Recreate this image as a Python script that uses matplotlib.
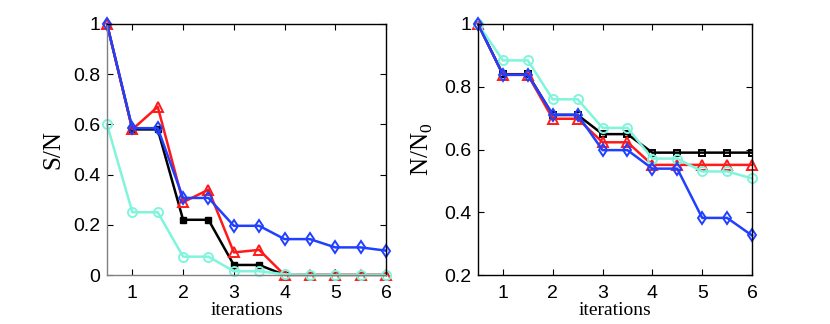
import matplotlib
matplotlib.use("Agg")
import matplotlib.pyplot as plt

x = [0.5, 1, 1.5, 2, 2.5, 3, 3.5, 4, 4.5, 5, 5.5, 6]

sn_black = [1, 0.58, 0.58, 0.22, 0.22, 0.04, 0.04, 0, 0, 0, 0, 0]
sn_red = [1, 0.58, 0.67, 0.29, 0.34, 0.09, 0.10, 0, 0, 0, 0, 0]
sn_blue = [1, 0.585, 0.585, 0.307, 0.307, 0.196, 0.196, 0.143, 0.143, 0.11, 0.11, 0.097]
sn_cyan = [0.6, 0.25, 0.25, 0.073, 0.073, 0.015, 0.015, 0.003, 0, 0, 0, 0]

nn_black = [1, 0.84, 0.84, 0.71, 0.71, 0.649, 0.649, 0.59, 0.59, 0.59, 0.59, 0.59]
nn_red = [1, 0.838, 0.838, 0.698, 0.698, 0.623, 0.623, 0.551, 0.551, 0.551, 0.551, 0.551]
nn_blue = [1, 0.838, 0.838, 0.711, 0.711, 0.598, 0.598, 0.539, 0.539, 0.382, 0.382, 0.326]
nn_cyan = [1, 0.884, 0.884, 0.76, 0.76, 0.669, 0.669, 0.571, 0.571, 0.53, 0.53, 0.508]

xticks = [1, 2, 3, 4, 5, 6]
left_yticks = [0, 0.2, 0.4, 0.6, 0.8, 1]
right_yticks = [0.2, 0.4, 0.6, 0.8, 1]

RED = "#ff1a1a"
BLUE = "#2040ff"
CYAN = "#80f5dc"
BLACK = "#000000"

plt.rcParams["font.family"] = ["Liberation Sans", "DejaVu Sans"]
serif = ["Liberation Serif", "DejaVu Serif"]

fig = plt.figure(figsize=(8.3, 3.24), dpi=100)
ax1 = fig.add_axes([107 / 830, 1 - 275 / 324, (386 - 107) / 830, (275 - 24) / 324])
ax2 = fig.add_axes([478 / 830, 1 - 275 / 324, (752 - 478) / 830, (275 - 24) / 324])

lw = 1.8
ms = 6.5
mew = 1.4

ax1.plot(x, sn_black, color=BLACK, lw=lw, marker="s", ms=4.5, mfc=BLACK, mew=1)
ax1.plot(x, sn_red, color=RED, lw=lw, marker="^", ms=ms + 1, mfc="none", mew=mew, clip_on=False)
ax1.plot(x, sn_blue, color=BLUE, lw=lw, marker="d", ms=ms, mfc="none", mew=mew, clip_on=False)
ax1.plot(x, sn_cyan, color=CYAN, lw=lw, marker="o", ms=ms, mfc="none", mew=mew, clip_on=False)

ax2.plot(x, nn_black, color=BLACK, lw=lw, marker="s", ms=5, mfc="none", mew=mew)
ax2.plot(x, nn_red, color=RED, lw=lw, marker="^", ms=ms + 1, mfc="none", mew=mew, clip_on=False)
ax2.plot(x, nn_cyan, color=CYAN, lw=lw, marker="o", ms=ms, mfc="none", mew=mew, clip_on=False)
ax2.plot(x, nn_blue, color=BLUE, lw=lw, marker="d", ms=ms, mfc="none", mew=mew, clip_on=False)

for ax, yt, ylim in ((ax1, left_yticks, (0, 1)), (ax2, right_yticks, (0.2, 1))):
    ax.set_xlim(0.5, 6)
    ax.set_ylim(*ylim)
    ax.set_xticks(xticks)
    ax.set_xticklabels([str(t) for t in xticks])
    ax.set_yticks(yt)
    ax.set_yticklabels([("%g" % t) for t in yt])
    ax.tick_params(direction="in", top=True, right=True, labelsize=14, length=4, width=0.8)
    ax.tick_params(axis="x", pad=7)
    ax.tick_params(axis="y", pad=5)
    for s in ax.spines.values():
        s.set_linewidth(1.0)
    ax.set_xlabel("iterations", fontsize=14, family=serif, labelpad=0)

for s in ("left", "bottom"):
    ax1.spines[s].set_color("#808080")

ax1.set_ylabel("S/N", fontsize=18, family=serif, labelpad=6)
ax2.set_ylabel(r"N/N$_{\mathregular{0}}$", fontsize=18, family=serif, labelpad=6)

fig.savefig("out.png", dpi=100)
